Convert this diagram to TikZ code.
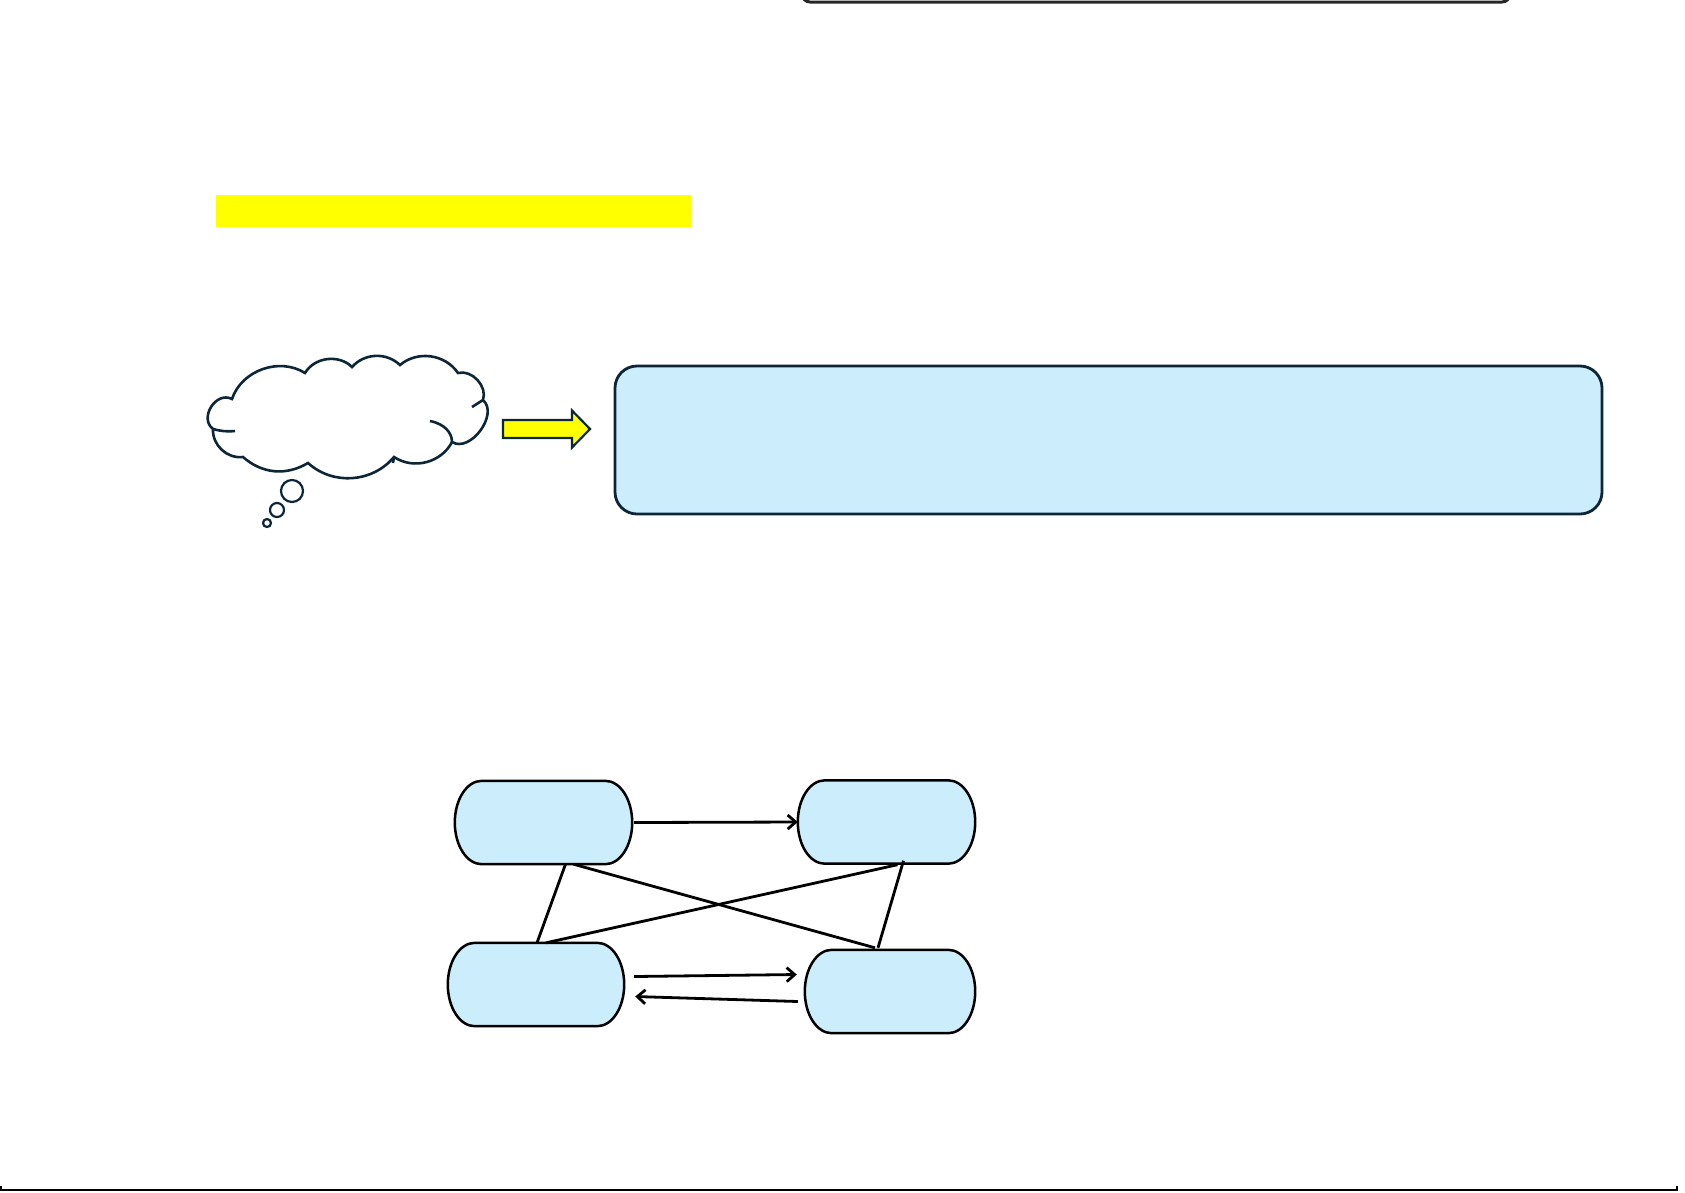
\documentclass[tikz,border=0pt]{standalone}
\usepackage{tikz}
\usetikzlibrary{arrows.meta,calc}
\definecolor{paleblue}{RGB}{204,237,252}
\definecolor{inkblue}{RGB}{12,38,56}
\definecolor{hiyellow}{RGB}{255,255,0}

\begin{document}
\begin{tikzpicture}[
    x=1pt, y=-1pt,
    pillbox/.style={rectangle, inner sep=0pt, minimum width=#1, minimum height=83pt},
    pillbox/.default=177pt,
    pill/.style={draw=black, line width=2.5pt, fill=paleblue},
    goalbox/.style={rectangle, draw=inkblue, line width=2.8pt, fill=paleblue, rounded corners=22pt, minimum width=987pt, minimum height=148pt, inner sep=0pt},
    puff/.style={draw=inkblue, line width=2.6pt},
    bubble/.style={circle, draw=inkblue, line width=2.2pt, inner sep=0pt, minimum size=#1},
    hintarrow/.style={draw=inkblue, line width=2.2pt, fill=hiyellow, line join=miter},
    arr/.style={-{Straight Barb[length=8pt,width=14pt]}, line width=2.8pt},
    link/.style={line width=2.8pt}
]
    \useasboundingbox (0,0) rectangle (1685,1192);
    \clip (0,0) rectangle (1685,1192);

    % frame edges cut by the page
    \draw[line width=3pt, black!85, rounded corners=8pt] (802,-40) rectangle (1510,2);
    \draw[line width=2.5pt] (1,1186) -- (1,1190) -- (1677,1190) -- (1677,1186);

    % highlighted title bar
    \fill[hiyellow] (216,195) rectangle (691,227);

    % thought cloud
    \draw[puff] (232,399) to[bend left=52] (305,373) to[bend left=52] (352,367)
        to[bend left=46] (400,365) to[bend left=48] (458,373) to[bend left=62] (483,400)
        to[bend left=85, looseness=1.05] (452,442) to[bend left=48] (394,457)
        to[bend left=46] (308,463) to[bend left=36] (243,457) to[bend left=50] (213,429)
        to[bend left=85, looseness=1.3] cycle;
    \draw[puff] (213,429) to[bend right=10] (235,431);
    \draw[puff] (472,407) -- (483,400);
    \draw[puff] (430,421) .. controls (445,424) and (452,433) .. (452,442);
    \draw[puff] (394,457) -- (393,463);
    \node[bubble=22pt] (big)   at (292,491) {};
    \node[bubble=14pt] (mid)   at (277,510) {};
    \node[bubble=8pt]  (small) at (267,523) {};

    % block arrow and goal box
    \coordinate (hint) at (503,429);
    \draw[hintarrow] (hint) ++(0,-9) -- ++(69,0) -- ++(0,-9.5) -- ++(18,18.5)
        -- ++(-18,18.5) -- ++(0,-9.5) -- ++(-69,0) -- cycle;
    \node[goalbox] (goal) at (1108.5,440) {};

    % four pill nodes
    \node[pillbox]        (pa) at (543.5,822.5) {};
    \node[pillbox]        (pb) at (886.5,822)   {};
    \node[pillbox=176pt]  (pc) at (536,984.5)   {};
    \node[pillbox=170pt]  (pd) at (890,991.5)   {};
    \foreach \n in {pa,pb,pc,pd}
        \draw[pill] ($(\n.north west)+(27,0)$) -- ($(\n.north east)+(-27,0)$)
            .. controls ($(\n.north east)+(-12,0)$) and ($(\n.east)+(0,-23)$) .. (\n.east)
            .. controls ($(\n.east)+(0,23)$) and ($(\n.south east)+(-12,0)$) .. ($(\n.south east)+(-27,0)$)
            -- ($(\n.south west)+(27,0)$)
            .. controls ($(\n.south west)+(12,0)$) and ($(\n.west)+(0,23)$) .. (\n.west)
            .. controls ($(\n.west)+(0,-23)$) and ($(\n.north west)+(12,0)$) .. ($(\n.north west)+(27,0)$)
            -- cycle;

    % arrows between the pills
    \draw[arr] ($(pa.east)+(2,0)$) -- (pb.west);
    \draw[arr] ($(pc.east)+(10,-8)$) -- ($(pd.west)+(-8,-17)$);
    \draw[arr] ($(pd.west)+(-7,10)$) -- ($(pc.east)+(11,12)$);

    % plain links
    \draw[link] ($(pa.south)+(22,0)$) -- ($(pc.north)+(1,0)$);
    \draw[link] ($(pa.south)+(30,0)$) -- ($(pd.north)+(-15,-2)$);
    \draw[link] ($(pc.north)+(10,0)$) -- ($(pb.south)+(11,1)$);
    \draw[link] ($(pb.south)+(17,-3)$) -- ($(pd.north)+(-12,-2)$);

\end{tikzpicture}
\end{document}
